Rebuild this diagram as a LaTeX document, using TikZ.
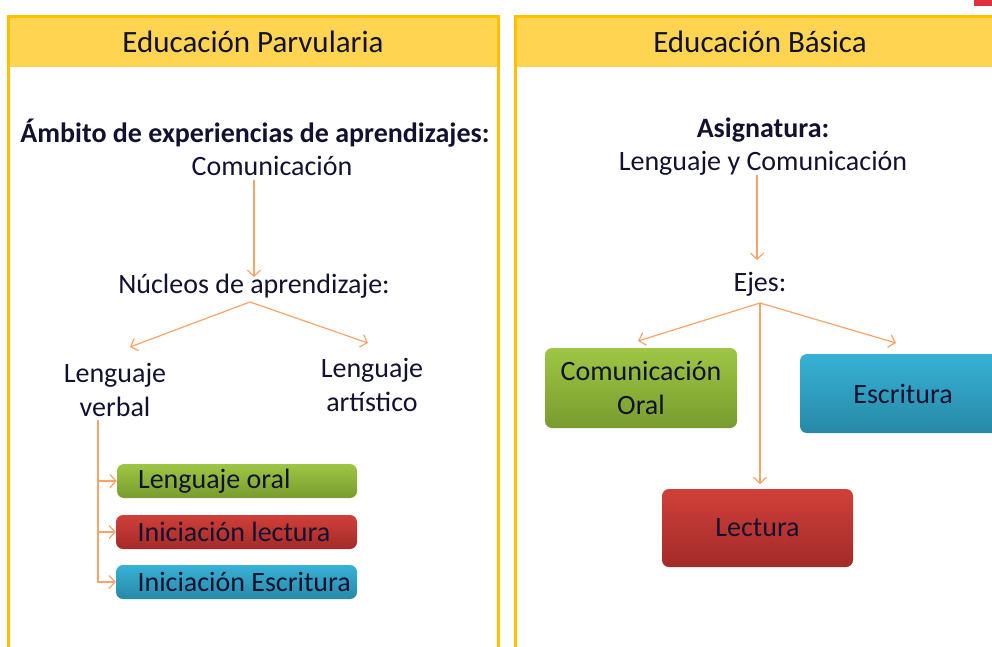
\documentclass[tikz,border=0pt]{standalone}
\usepackage{fontspec}
\setmainfont{Carlito}
\usepackage{tikz}
\usetikzlibrary{positioning, arrows.meta}
\usepackage{xcolor}
\definecolor{frameyellow}{HTML}{FFC000}
\definecolor{headyellow}{HTML}{FFD450}
\definecolor{ink}{RGB}{18,18,48}
\definecolor{linkorange}{HTML}{F7A46A}
\definecolor{cornerred}{HTML}{E0303F}
\newcommand{\lefttext}[1]{\makebox[198pt][l]{#1}}

\begin{document}
\begin{tikzpicture}[x=1pt, y=-1pt, >={Straight Barb[length=6pt,width=13pt]},
                    title/.style={font=\fontsize{31}{37}\selectfont, text=ink},
                    txt/.style={font=\fontsize{28}{34}\selectfont, text=ink, align=center, inner sep=2pt},
                    boldtxt/.style={txt, font=\fontsize{28}{34}\selectfont\bfseries},
                    pill/.style={rounded corners=7pt, font=\fontsize{28}{34}\selectfont, text=ink, inner sep=0pt},
                    link/.style={->, draw=linkorange, line width=1.2pt}]

    \useasboundingbox (0,0) rectangle (992,646);
    \clip (0,0) rectangle (992,646);

    % panels
    \fill[headyellow] (8,16) rectangle (498,67);
    \draw[frameyellow, line width=3pt] (8,660) -- (8,16) -- (498,16) -- (498,660);
    \fill[headyellow] (515,16) rectangle (1000,67);
    \draw[frameyellow, line width=3pt] (515,660) -- (515,16) -- (1000,16);
    \fill[cornerred] (974,0) rectangle (992,6);

    \node[title] (hleft) at (253,42) {Educación Parvularia};
    \node[title] (hright) at (760,42) {Educación Básica};

    % left side
    \node[boldtxt] (ambito) at (255,133) {Ámbito de experiencias de aprendizajes:};
    \node[txt] (com1) at (272,166) {Comunicación};
    \node[txt] (nucleos) at (254,286) {Núcleos de aprendizaje:};
    \node[txt] (verbal) at (115,390) {Lenguaje\\verbal};
    \node[txt] (artistico) at (372,385) {Lenguaje\\artístico};

    \node[pill, top color={rgb,255:red,158;green,198;blue,68}, bottom color={rgb,255:red,120;green,156;blue,46},
          minimum width=240pt, minimum height=34pt, inner xsep=21pt] (oral) at (237,481) {\lefttext{Lenguaje oral}};
    \node[pill, top color={rgb,255:red,208;green,64;blue,58}, bottom color={rgb,255:red,164;green,42;blue,40},
          minimum width=241pt, minimum height=34pt, inner xsep=21pt] (lect) at (236.5,532) {\lefttext{Iniciación lectura}};
    \node[pill, top color={rgb,255:red,54;green,178;blue,214}, bottom color={rgb,255:red,40;green,136;blue,166},
          minimum width=241pt, minimum height=34pt, inner xsep=21pt] (escr) at (236.5,582) {\lefttext{Iniciación Escritura}};
    \coordinate (vtop) at (98,420);

    \draw[link] (nucleos.north |- 0,180) -- (nucleos.north |- 0,277);
    \draw[link] (250,302) -- (130,347);
    \draw[link] (250,302) -- (368,343);
    \draw[link] (vtop) |- (oral.west);
    \draw[link] (vtop) |- (lect.west);
    \draw[link] (vtop) |- (escr.west);

    % right side
    \node[boldtxt] (asig) at (763,130) {Asignatura:};
    \node[txt] (lyc) at (763,163) {Lenguaje y Comunicación};
    \node[txt] (ejes) at (760,284) {Ejes:};

    \node[pill, top color={rgb,255:red,158;green,198;blue,68}, bottom color={rgb,255:red,120;green,156;blue,46},
          minimum width=192pt, minimum height=80pt, align=center] (comoral) at (641,388) {Comunicación\\Oral};
    \node[pill, top color={rgb,255:red,54;green,178;blue,214}, bottom color={rgb,255:red,40;green,136;blue,166},
          minimum width=206pt, minimum height=79pt] (escritura) at (903,393.5) {Escritura};
    \node[pill, top color={rgb,255:red,208;green,64;blue,58}, bottom color={rgb,255:red,164;green,42;blue,40},
          minimum width=191pt, minimum height=78pt] (lectura) at (757.5,528) {Lectura};
    \coordinate (ejesfoot) at (760,303);

    \draw[link] (757,175) -- (757,260);
    \draw[link] (ejesfoot) -- (638,341);
    \draw[link] (ejesfoot) -- (760,484);
    \draw[link] (ejesfoot) -- (896,343);
\end{tikzpicture}
\end{document}
